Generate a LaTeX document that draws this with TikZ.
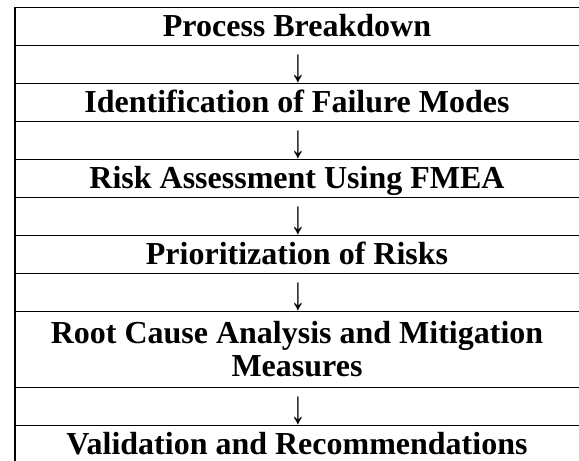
\documentclass[tikz,border=0pt]{standalone}
\usepackage{fontspec}
\usepackage{graphicx}
\setmainfont{Liberation Serif}
\begin{document}
\begin{tikzpicture}[x=1pt,y=-1pt,
  rule/.style={line width=1.3pt},
  stepbox/.style={font=\fontsize{32}{33}\selectfont\bfseries, anchor=base, inner sep=0pt, align=center},
  flowarrow/.style={font=\fontsize{31.5}{33}\selectfont, anchor=base, inner sep=0pt}]
\useasboundingbox (0,0) rectangle (579,461);
\fill[white] (0,0) rectangle (579,461);
% horizontal rules of the table
\foreach \y in {7.5,45.5,83.5,121.5,159.5,197.5,235.5,273.5,311.5,387.5,425.5}
  \draw[rule] (15,\y) -- (579,\y);
% left border
\draw[rule] (15,7) -- (15,461);
% process steps
\node[stepbox] (s1) at (297,36) {Process Breakdown};
\node[stepbox] (s2) at (297,112) {Identification of Failure Modes};
\node[stepbox] (s3) at (297,188) {Risk Assessment Using FMEA};
\node[stepbox] (s4) at (297,264) {Prioritization of Risks};
\node[stepbox] (s5) at (297,376) {Root Cause Analysis and Mitigation\\Measures};
\node[stepbox] (s6) at (297,454) {Validation and Recommendations};
% arrows between steps
\newcommand{\downglyph}{\scalebox{1}[1.5]{↓}}
\node[flowarrow] (a1) at (298,81) {\downglyph};
\node[flowarrow] (a2) at (298,157) {\downglyph};
\node[flowarrow] (a3) at (298,233) {\downglyph};
\node[flowarrow] (a4) at (298,309) {\downglyph};
\node[flowarrow] (a5) at (298,423) {\downglyph};
\end{tikzpicture}
\end{document}
